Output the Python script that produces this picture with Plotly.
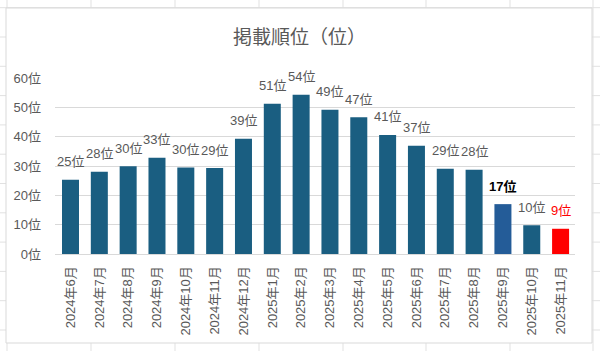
import plotly.graph_objects as go

categories = ["2024年6月", "2024年7月", "2024年8月", "2024年9月", "2024年10月", "2024年11月",
              "2024年12月", "2025年1月", "2025年2月", "2025年3月", "2025年4月", "2025年5月",
              "2025年6月", "2025年7月", "2025年8月", "2025年9月", "2025年10月", "2025年11月"]
values = [25.3, 28.0, 29.9, 32.8, 29.5, 29.3, 39.3, 51.2, 54.3, 49.2, 46.6, 40.6,
          36.9, 29.1, 28.7, 17.0, 9.8, 8.6]
label_texts = ["25位", "28位", "30位", "33位", "30位", "29位", "39位", "51位", "54位", "49位",
               "47位", "41位", "37位", "29位", "28位", "17位", "10位", "9位"]
title_text = "掲載順位（位）"

BAR = "#1A5E81"
HILITE = "#245C98"
RED = "#FF0000"
GRAY = "#595959"
FONT = "Liberation Sans, Noto Sans CJK JP, sans-serif"

bar_colors = [BAR] * len(values)
bar_colors[15] = HILITE
bar_colors[17] = RED

W, H = 600, 351
ML, MR, MT, MB = 55, 25, 78, 97
PW, PH = W - ML - MR, H - MT - MB


def px(x):
    return (x - ML) / PW


def py(y):
    return 1 - (y - MT) / PH


fig = go.Figure(go.Bar(x=categories, y=values, marker=dict(color=bar_colors, line=dict(width=0)),
                       hoverinfo="skip"))

shapes = []
# spreadsheet grid behind chart
for cx in [7, 91, 175, 259, 343, 426, 510, 593]:
    shapes.append(dict(type="line", xref="paper", yref="paper", x0=px(cx), x1=px(cx),
                       y0=py(0), y1=py(H), line=dict(color="#e1e1e1", width=1), layer="below"))
for k in range(13):
    ry = 7.7 + 29.3 * k
    shapes.append(dict(type="line", xref="paper", yref="paper", x0=px(0), x1=px(W),
                       y0=py(ry), y1=py(ry), line=dict(color="#e1e1e1", width=1), layer="below"))
# chart area
shapes.append(dict(type="rect", xref="paper", yref="paper", x0=px(6), x1=px(592),
                   y0=py(343), y1=py(8), fillcolor="white",
                   line=dict(color="#d9d9d9", width=1), layer="below"))

annotations = [dict(x=px(299), y=py(37), xref="paper", yref="paper", text=title_text,
                    showarrow=False, xanchor="center", yanchor="middle",
                    font=dict(size=19, color=GRAY, family=FONT))]
for i, (c, v, t) in enumerate(zip(categories, values, label_texts)):
    color = GRAY
    txt = t
    if i == 15:
        color = "#000000"
        txt = "<b>" + t + "</b>"
    elif i == 17:
        color = RED
    annotations.append(dict(x=c, y=v, xref="x", yref="y", text=txt, showarrow=False,
                            xanchor="center", yanchor="middle", yshift=18,
                            font=dict(size=13, color=color, family=FONT)))

fig.update_layout(
    width=W, height=H,
    margin=dict(l=ML, r=MR, t=MT, b=MB, pad=0),
    paper_bgcolor="white", plot_bgcolor="rgba(0,0,0,0)",
    showlegend=False, bargap=0.41,
    font=dict(family=FONT, size=13, color=GRAY),
    shapes=shapes, annotations=annotations,
    xaxis=dict(type="category", tickangle=-90, showgrid=False, showline=True,
               linecolor="#d9d9d9", linewidth=1, ticks="", ticklabelstandoff=6,
               tickfont=dict(size=13, color=GRAY, family=FONT), fixedrange=True),
    yaxis=dict(range=[0, 60], dtick=10, ticksuffix="位", showgrid=True, gridcolor="#d9d9d9",
               gridwidth=1, zeroline=False, showline=False, ticks="", ticklabelstandoff=13,
               tickfont=dict(size=13, color=GRAY, family=FONT), fixedrange=True),
)

fig.write_html("out.html", config={"displayModeBar": False})
